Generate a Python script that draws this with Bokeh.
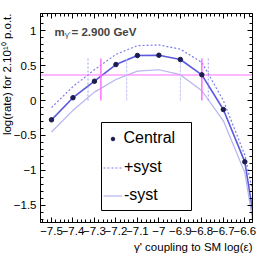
import numpy as np
from bokeh.plotting import figure
from bokeh.models import (Range1d, LinearAxis, FixedTicker, CustomJSTickFormatter,
                          Label, Legend, LegendItem, BoxAnnotation, Title)
from bokeh.embed import file_html
from bokeh.resources import INLINE

# ---- data ----
log_eps = [-7.5, -7.4, -7.3, -7.2, -7.1, -7.0, -6.9, -6.8, -6.7, -6.6, -6.5]
central = [-0.276, 0.040, 0.276, 0.515, 0.644, 0.648, 0.587, 0.368, -0.129, -0.877, -2.79]
plus_syst = [-0.10, 0.20, 0.44, 0.66, 0.785, 0.795, 0.735, 0.545, 0.0, -0.78, -2.2]
minus_syst = [-0.45, -0.14, 0.12, 0.30, 0.42, 0.44, 0.37, 0.14, -0.29, -1.03, -2.9]

threshold = 0.365
central_cross = [-7.27, -6.80]
plus_cross = [-7.33, -6.77]
minus_cross = [-7.15, -6.90]
marker_low, marker_high = 0.0, 0.6

x_ticks = [-7.5, -7.4, -7.3, -7.2, -7.1, -7.0, -6.9, -6.8, -6.7, -6.6]
y_ticks = [-1.5, -1.0, -0.5, 0.0, 0.5, 1.0]
mass_label = "= 2.900 GeV"
y_title = "log(rate) for 2.10\u00b9\u2070 p.o.t."
x_title = "\u03b3' coupling to SM log(\u03b5)"

X0, X1 = -7.5512, -6.5642
Y0, Y1 = -1.745, 1.245

# canvas-pixel -> data helpers (frame in canvas coordinates)
FL, FR, FT, FB = 40, 252, 13, 222
def xd(px):
    return X0 + (px - FL) / (FR - FL) * (X1 - X0)
def yd(py):
    return Y1 - (py - FT) / (FB - FT) * (Y1 - Y0)

FONT = "Liberation Sans"

p = figure(width=266, height=257, x_range=Range1d(X0, X1), y_range=Range1d(Y0, Y1),
           output_backend="svg", toolbar_location=None,
           min_border_left=40, min_border_right=14, min_border_top=13, min_border_bottom=35)
p.xgrid.visible = False
p.ygrid.visible = False
p.outline_line_color = "black"
p.outline_line_alpha = 1.0
p.outline_line_width = 1
p.background_fill_color = "white"
p.border_fill_color = "white"

fmt = CustomJSTickFormatter(code="""
var v = Math.round(tick*10)/10;
return String(v).replace('-', '\u2212');
""")
blank = CustomJSTickFormatter(code="return '';")

def style_axis(ax, labels=True):
    ax.axis_line_color = "black"
    ax.major_tick_in = 5
    ax.major_tick_out = 0
    ax.minor_tick_in = 3
    ax.minor_tick_out = 0
    ax.major_tick_line_color = "black"
    ax.minor_tick_line_color = "black"
    if labels:
        ax.major_label_text_font = FONT
        ax.major_label_text_font_size = "11.5px"
        ax.major_label_text_color = "black"
        ax.major_label_standoff = 4
        ax.formatter = fmt
    else:
        ax.formatter = blank
        ax.major_label_text_font_size = "1px"
        ax.major_label_standoff = 0

xt = FixedTicker(ticks=x_ticks, minor_ticks=list(np.round(np.arange(-7.54, -6.56, 0.02), 3)))
yt = FixedTicker(ticks=y_ticks, minor_ticks=list(np.round(np.arange(-1.7, 1.25, 0.1), 2)))

p.xaxis.ticker = xt
p.yaxis.ticker = yt
style_axis(p.xaxis[0])
style_axis(p.yaxis[0])

top = LinearAxis(ticker=xt)
right = LinearAxis(ticker=yt)
style_axis(top, labels=False)
style_axis(right, labels=False)
p.add_layout(top, "above")
p.add_layout(right, "right")

# axis titles (ROOT style: aligned to the far end of the axis)
p.add_layout(Title(text=y_title, align="right", vertical_align="bottom", standoff=-5,
                   text_font=FONT, text_font_size="11.5px", text_font_style="normal",
                   text_color="black"), "left")
p.add_layout(Title(text=x_title, align="right", vertical_align="bottom", standoff=2,
                   text_font=FONT, text_font_size="11.5px", text_font_style="normal",
                   text_color="black"), "below")

# curves
r_minus = p.line(log_eps, minus_syst, line_color="#b4b4f2", line_width=1.2)
r_plus = p.line(log_eps, plus_syst, line_color="#7c7cea", line_width=1.2, line_dash="2 2")
p.line(log_eps, central, line_color="#5a5ade", line_width=1.6)

# threshold lines
p.segment(x0=[X0], y0=[threshold], x1=[X1], y1=[threshold], line_color="#ff70ff", line_width=1.2)
p.segment(x0=plus_cross, y0=[marker_low]*2, x1=plus_cross, y1=[marker_high]*2,
          line_color="#9c9cf0", line_width=1, line_dash="2 2")
p.segment(x0=minus_cross, y0=[marker_low]*2, x1=minus_cross, y1=[marker_high]*2,
          line_color="#c4c4f4", line_width=1, line_dash="3 1")
p.segment(x0=central_cross, y0=[marker_low]*2, x1=central_cross, y1=[marker_high]*2,
          line_color="#ff70ff", line_width=1.5)

r_central = p.scatter(log_eps, central, size=4.5, marker="circle",
                      fill_color="#1c1c50", line_color="#1c1c50")

# legend: frame box + two borderless legends (marker entry needs a narrower glyph)
p.add_layout(BoxAnnotation(left=xd(101), right=xd(191), top=yd(122), bottom=yd(210),
                           fill_alpha=0, line_color="black", line_width=1, line_alpha=1))

def make_legend(items, loc, gw, standoff):
    lg = Legend(items=items, location=loc)
    lg.border_line_alpha = 0
    lg.background_fill_alpha = 0
    lg.label_text_font = FONT
    lg.label_text_font_size = "16px"
    lg.label_text_color = "black"
    lg.glyph_width = gw
    lg.glyph_height = 27
    lg.label_height = 27
    lg.spacing = 1
    lg.padding = 0
    lg.margin = 0
    lg.label_standoff = standoff
    return lg

leg_a = make_legend([LegendItem(label="Central", renderers=[r_central])], (67.5, 70.5), 9, 7)
leg_b = make_legend([LegendItem(label="+syst", renderers=[r_plus]),
                     LegendItem(label="-syst", renderers=[r_minus])], (63, 13.5), 19, 2)
p.add_layout(leg_a, "center")
p.add_layout(leg_b, "center")

# mass text
p.add_layout(Label(x=xd(54), y=yd(31), text="m", text_font=FONT, text_font_style="bold",
                   text_font_size="11.5px", text_baseline="alphabetic", text_align="left"))
p.add_layout(Label(x=xd(64.5), y=yd(34), text="\u03b3'", text_font=FONT,
                   text_font_size="8px", text_baseline="alphabetic", text_align="left"))
p.add_layout(Label(x=xd(71), y=yd(31), text=mass_label, text_font=FONT, text_font_style="bold",
                   text_font_size="11.5px", text_baseline="alphabetic", text_align="left"))

open("out.html", "w").write(file_html(p, INLINE))
